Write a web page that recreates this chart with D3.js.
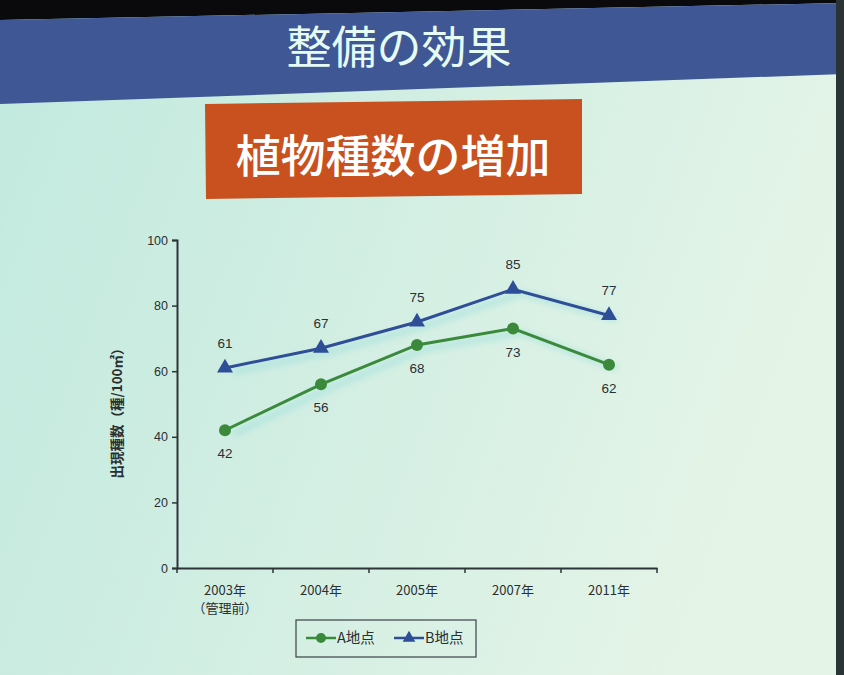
<!DOCTYPE html>
<html><head><meta charset="utf-8">
<script src="https://cdn.jsdelivr.net/npm/d3@7"></script>
<style>body{margin:0;background:#000}svg{display:block}</style>
</head><body>
<svg id="c" width="844" height="675"></svg>
<script>
const categories = ["2003年", "2004年", "2005年", "2007年", "2011年"];
const subLabels = ["（管理前）", "", "", "", ""];
const seriesA = [42, 56, 68, 73, 62];
const seriesB = [61, 67, 75, 85, 77];
const yTicks = [0, 20, 40, 60, 80, 100];
const seriesNames = ["A地点", "B地点"];
const slideTitle = "整備の効果";
const chartTitle = "植物種数の増加";
const yTitle = "出現種数（種/100㎡）";

const font = "'Noto Sans CJK JP','Noto Sans',sans-serif";
const svg = d3.select("#c");
const defs = svg.append("defs");

const bg = defs.append("linearGradient").attr("id","bg").attr("x1","0").attr("y1","0").attr("x2","1").attr("y2","0.3");
bg.append("stop").attr("offset","0").attr("stop-color","#c1e9de");
bg.append("stop").attr("offset","0.5").attr("stop-color","#d2eee3");
bg.append("stop").attr("offset","1").attr("stop-color","#e4f4e7");
const blur = defs.append("filter").attr("id","glow").attr("x","-20%").attr("y","-20%").attr("width","140%").attr("height","140%");
blur.append("feGaussianBlur").attr("stdDeviation","3");

// slide body
svg.append("rect").attr("width",844).attr("height",675).attr("fill","url(#bg)");
// black top strip
svg.append("path").attr("d","M0,0H844V0L844,3L0,20Z").attr("fill","#0a0a0c");
// banner
svg.append("path").attr("d","M0,20L844,3L844,74L0,104Z").attr("fill","#3f5795");
svg.append("rect").attr("x",836).attr("y",0).attr("width",8).attr("height",675).attr("fill","#2a3436");
svg.append("text").attr("x",399).attr("y",64).attr("text-anchor","middle")
  .attr("font-family",font).attr("font-size",45).attr("fill","#e6fbf4").text(slideTitle);

// orange title box
svg.append("path").attr("d","M205,104L582,99L582,194L206,199Z").attr("fill","#c8511f");
svg.append("text").attr("x",393).attr("y",173).attr("text-anchor","middle")
  .attr("font-family",font).attr("font-size",45).attr("font-weight",500).attr("fill","#ffffff").text(chartTitle);

// scales
const x = d3.scaleBand().domain(categories).range([177, 657]).padding(0);
const y = d3.scaleLinear().domain([0, 100]).range([568, 240]);
const g = svg.append("g");
const axisColor = "#2c3438";

// y axis
const yAxis = g.append("g").attr("transform","translate(177,0)")
  .call(d3.axisLeft(y).tickValues(yTicks).tickSize(5).tickPadding(4));
yAxis.select(".domain").attr("stroke",axisColor).attr("stroke-width",2);
yAxis.selectAll(".tick line").attr("stroke",axisColor).attr("stroke-width",1.5);
yAxis.selectAll(".tick text").attr("font-family","'Liberation Sans',Arial,sans-serif").attr("font-size",12.5).attr("fill","#2a2f33");

// x axis
const xAxis = g.append("g").attr("transform","translate(0,568)")
  .call(d3.axisBottom(x).tickSize(0).tickPadding(0).tickFormat(""));
xAxis.select(".domain").attr("stroke",axisColor).attr("stroke-width",2);
const bounds = categories.map(c => x(c)).concat([x.range()[1]]);
g.selectAll(".xt").data(bounds).join("line")
  .attr("x1",d=>d).attr("x2",d=>d).attr("y1",568).attr("y2",573)
  .attr("stroke",axisColor).attr("stroke-width",1.5);
const xl = g.selectAll(".xl").data(categories).join("text")
  .attr("text-anchor","middle").attr("font-family",font).attr("font-size",13).attr("fill","#2a2f33");
xl.append("tspan").attr("x",d=>x(d)+x.bandwidth()/2).attr("y",595).text(d=>d);
xl.append("tspan").attr("x",d=>x(d)+x.bandwidth()/2).attr("y",613).text((d,i)=>subLabels[i]);

// y title
svg.append("text").attr("transform","translate(122,410) rotate(-90)").attr("text-anchor","middle")
  .attr("font-family",font).attr("font-size",13.5).attr("font-weight",700).attr("fill","#2a2f33").text(yTitle);

const cx = d => x(d) + x.bandwidth()/2;
const line = vals => d3.line().x((d,i)=>cx(categories[i])).y(d=>y(d))(vals);
const colA = "#3b8a3c", colB = "#2f4e98";

// glow shadows
[seriesA, seriesB].forEach(vals=>{
  g.append("path").attr("d",line(vals)).attr("transform","translate(8,4)").attr("fill","none")
    .attr("stroke","#9fe0dc").attr("stroke-width",6).attr("opacity",0.6).attr("filter","url(#glow)");
});

g.append("path").attr("d",line(seriesA)).attr("fill","none").attr("stroke",colA).attr("stroke-width",3);
g.append("path").attr("d",line(seriesB)).attr("fill","none").attr("stroke",colB).attr("stroke-width",3);

g.selectAll(".ma").data(seriesA).join("circle")
  .attr("cx",(d,i)=>cx(categories[i])).attr("cy",d=>y(d)).attr("r",6).attr("fill",colA);
const tri = d3.symbol().type(d3.symbolTriangle).size(110);
g.selectAll(".mb").data(seriesB).join("path").attr("d",tri)
  .attr("transform",(d,i)=>`translate(${cx(categories[i])},${y(d)})`).attr("fill",colB);

const lblFont = "'Liberation Sans',Arial,sans-serif";
g.selectAll(".la").data(seriesA).join("text")
  .attr("x",(d,i)=>cx(categories[i])).attr("y",d=>y(d)+28).attr("text-anchor","middle")
  .attr("font-family",lblFont).attr("font-size",13.5).attr("fill","#2a2f33").text(d=>d);
g.selectAll(".lb").data(seriesB).join("text")
  .attr("x",(d,i)=>cx(categories[i])).attr("y",d=>y(d)-20).attr("text-anchor","middle")
  .attr("font-family",lblFont).attr("font-size",13.5).attr("fill","#2a2f33").text(d=>d);

// legend
const lg = svg.append("g");
lg.append("rect").attr("x",296).attr("y",620).attr("width",180).attr("height",37)
  .attr("fill","none").attr("stroke","#3a4246").attr("stroke-width",1.2);
const items = [{n:seriesNames[0],c:colA,t:"c"},{n:seriesNames[1],c:colB,t:"t"}];
items.forEach((it,i)=>{
  const ox = 306 + i*88, oy = 638;
  lg.append("line").attr("x1",ox).attr("x2",ox+30).attr("y1",oy).attr("y2",oy).attr("stroke",it.c).attr("stroke-width",2.5);
  if(it.t==="c") lg.append("circle").attr("cx",ox+15).attr("cy",oy).attr("r",5).attr("fill",it.c);
  else lg.append("path").attr("d",d3.symbol().type(d3.symbolTriangle).size(70)).attr("transform",`translate(${ox+15},${oy})`).attr("fill",it.c);
  lg.append("text").attr("x",ox+31).attr("y",oy+5).attr("font-family",font).attr("font-size",14.5).attr("fill","#2a2f33").text(it.n);
});
</script>
</body></html>
